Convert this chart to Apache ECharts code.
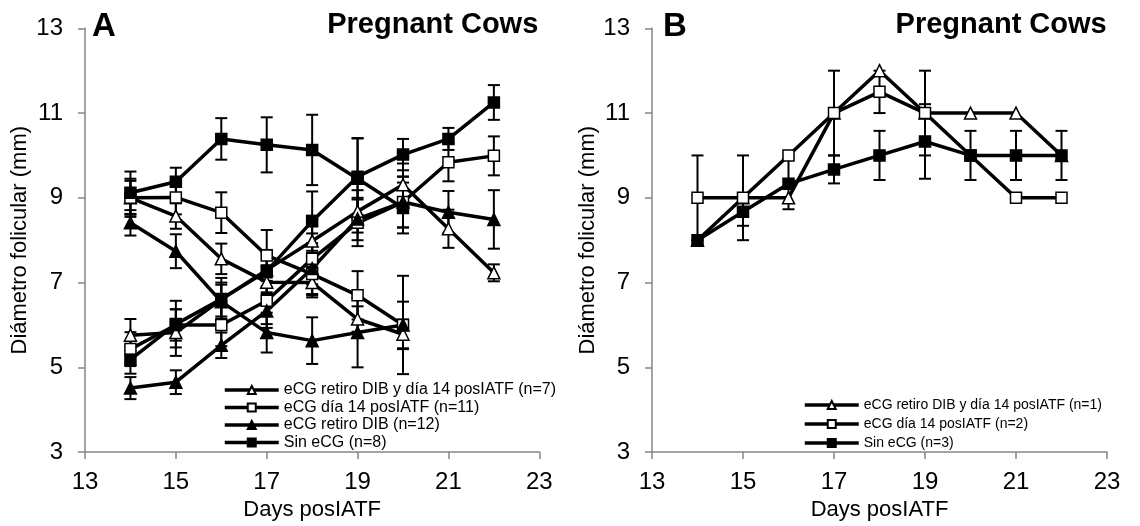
<!DOCTYPE html>
<html>
<head>
<meta charset="utf-8">
<script src="https://cdn.jsdelivr.net/npm/echarts@6/dist/echarts.min.js"></script>
<style>
html, body { margin: 0; padding: 0; background: #fff; }
#chart { width: 1140px; height: 526px; }
</style>
</head>
<body>
<div id="chart"></div>
<script>
// days after IATF
const daysLong = [14, 15, 16, 17, 18, 19, 20, 21, 22];
const daysShort = [14, 15, 16, 17, 18, 19, 20];
const xTicks = [13, 15, 17, 19, 21, 23];
const yTicks = [3, 5, 7, 9, 11, 13];

// panel A - each group has a regressing follicle (14-20) and a growing one (14-22)
const namesA = ['eCG retiro DIB y día 14 posIATF (n=7)', 'eCG día 14 posIATF (n=11)', 'eCG retiro DIB (n=12)', 'Sin eCG (n=8)'];
const otDown = [9.0, 8.57, 7.56, 7.01, 7.0, 6.14, 5.78];
const otDownErr = [0.4, 0.3, 0.36, 0.4, 0.35, 0.3, 0.35];
const otUp = [5.76, 5.82, 6.6, 7.3, 7.98, 8.68, 9.31, 8.27, 7.23];
const otUpErr = [0.38, 0.55, 0.4, 0.4, 0.6, 0.5, 0.5, 0.45, 0.2];
const osDown = [9.0, 9.01, 8.65, 7.64, 7.2, 6.7, 6.0];
const osDownErr = [0.45, 0.4, 0.48, 0.6, 0.5, 0.57, 1.16];
const osUp = [5.43, 6.0, 6.0, 6.57, 7.56, 8.41, 8.9, 9.84, 9.99];
const osUpErr = [0.4, 0.37, 0.5, 0.55, 0.6, 0.55, 0.6, 0.45, 0.46];
const ftDown = [8.41, 7.74, 6.55, 5.82, 5.63, 5.82, 6.0];
const ftDownErr = [0.3, 0.4, 0.4, 0.47, 0.55, 0.82, 0.55];
const ftUp = [4.51, 4.65, 5.52, 6.33, 7.33, 8.5, 8.9, 8.66, 8.49];
const ftUpErr = [0.26, 0.28, 0.3, 0.4, 0.6, 0.5, 0.6, 0.5, 0.69];
const fsDown = [9.12, 9.38, 10.39, 10.25, 10.13, 9.45, 8.76];
const fsDownErr = [0.5, 0.33, 0.49, 0.65, 0.83, 0.96, 0.6];
const fsUp = [5.18, 6.02, 6.61, 7.27, 8.45, 9.5, 10.02, 10.39, 11.25];
const fsUpErr = [0.33, 0.55, 0.5, 0.5, 0.7, 0.9, 0.37, 0.26, 0.41];

// panel B
const namesB = ['eCG retiro DIB y día 14 posIATF (n=1)', 'eCG día 14 posIATF (n=2)', 'Sin eCG (n=3)'];
const otB = [8, 9, 9, 11, 12, 11, 11, 11, 10];
const osB = [9, 9, 10, 11, 11.5, 11, 10, 9, 9];
const osBErr = [1, 1, 0, 1, 0.5, 1, 0, 0, 0];
const fsB = [8, 8.67, 9.33, 9.67, 10, 10.33, 10, 10, 10];
const fsBErr = [0, 0.33, 0.6, 0.33, 0.58, 0.88, 0.58, 0.58, 0.58];

const FONT = 'Liberation Sans, Arial, sans-serif';

function pairs(days, vals) {
  return days.map((d, i) => [d, vals[i]]);
}

function lineSeries(name, sym, filled, days, vals, idx) {
  return {
    name: name,
    type: 'line',
    xAxisIndex: idx,
    yAxisIndex: idx,
    data: pairs(days, vals),
    symbol: sym,
    symbolSize: sym === 'triangle' ? 12 : 11,
    lineStyle: { color: '#000', width: 3.5 },
    itemStyle: { color: filled ? '#000' : '#fff', borderColor: '#000', borderWidth: 1.5 },
    z: 3
  };
}

function errSeries(days, vals, errs, idx) {
  let data = [];
  days.forEach(function (d, i) {
    if (errs[i] > 0) data.push([d, vals[i] - errs[i], vals[i] + errs[i]]);
  });
  return {
    type: 'custom',
    xAxisIndex: idx,
    yAxisIndex: idx,
    silent: true,
    z: 2,
    data: data,
    encode: { x: 0, y: [1, 2] },
    renderItem: function (params, api) {
      let lo = api.coord([api.value(0), api.value(1)]);
      let hi = api.coord([api.value(0), api.value(2)]);
      let w = 6;
      let st = { stroke: '#000', lineWidth: 2 };
      return {
        type: 'group',
        children: [
          { type: 'line', shape: { x1: lo[0], y1: lo[1], x2: hi[0], y2: hi[1] }, style: st },
          { type: 'line', shape: { x1: lo[0] - w, y1: lo[1], x2: lo[0] + w, y2: lo[1] }, style: st },
          { type: 'line', shape: { x1: hi[0] - w, y1: hi[1], x2: hi[0] + w, y2: hi[1] }, style: st }
        ]
      };
    }
  };
}

function xAxis(idx) {
  return {
    type: 'value', gridIndex: idx,
    min: xTicks[0], max: xTicks[xTicks.length - 1], interval: 2,
    axisLine: { show: true, onZero: false, lineStyle: { color: '#868686', width: 1.5 } },
    axisTick: { show: true, length: 7, lineStyle: { color: '#868686', width: 1.5 } },
    axisLabel: { color: '#000', fontSize: 24, margin: 18, fontFamily: FONT },
    splitLine: { show: false },
    name: 'Days posIATF', nameLocation: 'middle', nameGap: 46,
    nameTextStyle: { color: '#000', fontSize: 22, fontFamily: FONT }
  };
}

function yAxis(idx, gap) {
  return {
    type: 'value', gridIndex: idx,
    min: yTicks[0], max: yTicks[yTicks.length - 1], interval: 2,
    axisLine: { show: true, onZero: false, lineStyle: { color: '#868686', width: 1.5 } },
    axisTick: { show: true, length: 7, lineStyle: { color: '#868686', width: 1.5 } },
    axisLabel: { color: '#000', fontSize: 24, margin: 22, fontFamily: FONT },
    splitLine: { show: false },
    name: 'Diámetro folicular (mm)', nameLocation: 'middle', nameGap: gap,
    nameTextStyle: { color: '#000', fontSize: 22, fontFamily: FONT }
  };
}

let series = [
  errSeries(daysShort, otDown, otDownErr, 0),
  errSeries(daysLong, otUp, otUpErr, 0),
  errSeries(daysShort, osDown, osDownErr, 0),
  errSeries(daysLong, osUp, osUpErr, 0),
  errSeries(daysShort, ftDown, ftDownErr, 0),
  errSeries(daysLong, ftUp, ftUpErr, 0),
  errSeries(daysShort, fsDown, fsDownErr, 0),
  errSeries(daysLong, fsUp, fsUpErr, 0),
  lineSeries(namesA[0], 'triangle', false, daysShort, otDown, 0),
  lineSeries(namesA[0], 'triangle', false, daysLong, otUp, 0),
  lineSeries(namesA[1], 'rect', false, daysShort, osDown, 0),
  lineSeries(namesA[1], 'rect', false, daysLong, osUp, 0),
  lineSeries(namesA[2], 'triangle', true, daysShort, ftDown, 0),
  lineSeries(namesA[2], 'triangle', true, daysLong, ftUp, 0),
  lineSeries(namesA[3], 'rect', true, daysShort, fsDown, 0),
  lineSeries(namesA[3], 'rect', true, daysLong, fsUp, 0),

  errSeries(daysLong, osB, osBErr, 1),
  errSeries(daysLong, fsB, fsBErr, 1),
  lineSeries(namesB[0], 'triangle', false, daysLong, otB, 1),
  lineSeries(namesB[1], 'rect', false, daysLong, osB, 1),
  lineSeries(namesB[2], 'rect', true, daysLong, fsB, 1)
];

let legendText = { color: '#000', fontFamily: FONT };

let chart = echarts.init(document.getElementById('chart'));
chart.setOption({
  animation: false,
  backgroundColor: '#fff',
  title: [
    { text: 'A', left: 92, top: 10, padding: 0, textStyle: { fontSize: 33, fontWeight: 'bold', fontFamily: FONT, color: '#000' } },
    { text: 'Pregnant Cows', right: 601.7, top: 10, padding: 0, textStyle: { fontSize: 29, fontWeight: 'bold', fontFamily: FONT, color: '#000' } },
    { text: 'B', left: 663, top: 10, padding: 0, textStyle: { fontSize: 33, fontWeight: 'bold', fontFamily: FONT, color: '#000' } },
    { text: 'Pregnant Cows', right: 33.3, top: 10, padding: 0, textStyle: { fontSize: 29, fontWeight: 'bold', fontFamily: FONT, color: '#000' } }
  ],
  grid: [
    { left: 85, right: 600.7, top: 28.3, bottom: 72.7 },
    { left: 652, right: 33, top: 28.3, bottom: 72.7 }
  ],
  xAxis: [xAxis(0), xAxis(1)],
  yAxis: [yAxis(0, 54), yAxis(1, 43)],
  legend: [
    {
      data: namesA, orient: 'vertical', left: 223, top: 382, padding: 0,
      itemWidth: 54, itemHeight: 10, itemGap: 1.5, selectedMode: false,
      lineStyle: { width: 3.5 },
      textStyle: Object.assign({ fontSize: 16, lineHeight: 16 }, legendText)
    },
    {
      data: namesB, orient: 'vertical', left: 803, top: 397, padding: 0,
      itemWidth: 54, itemHeight: 10, itemGap: 3, selectedMode: false,
      lineStyle: { width: 3.5 },
      textStyle: Object.assign({ fontSize: 14, lineHeight: 16 }, legendText)
    }
  ],
  series: series
});
</script>
</body>
</html>
